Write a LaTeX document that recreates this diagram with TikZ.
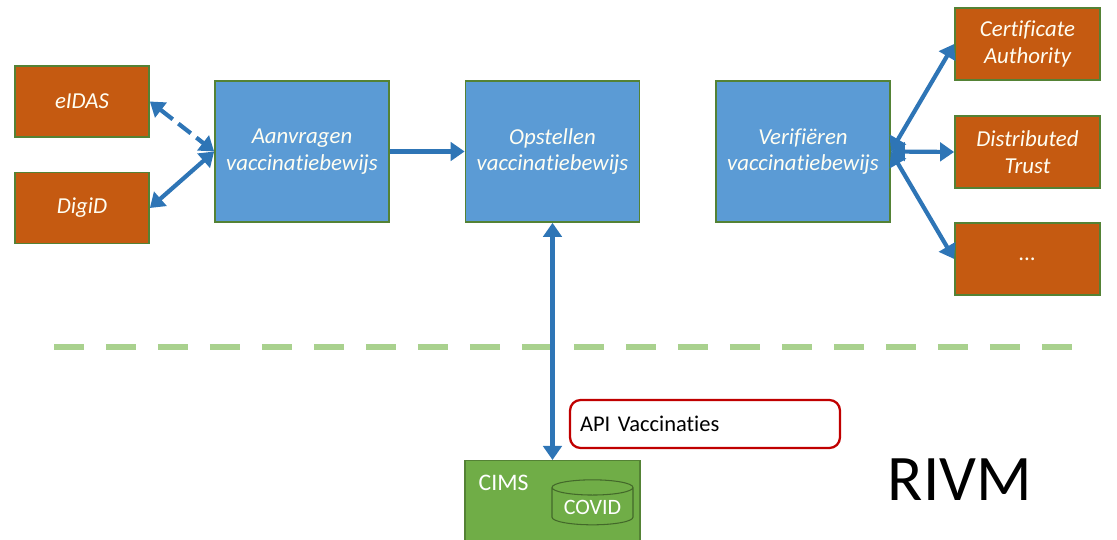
\documentclass[tikz,border=0pt]{standalone}
\usepackage{fontspec}
\setmainfont[Ligatures=NoCommon]{Carlito}
\usepackage{tikz}
\usetikzlibrary{arrows.meta,shapes.geometric,calc}
\definecolor{oranje}{HTML}{C55A11}
\definecolor{blauw}{HTML}{5B9BD5}
\definecolor{pijl}{HTML}{2E75B6}
\definecolor{rand}{HTML}{548235}
\definecolor{groen}{HTML}{70AD47}
\definecolor{lichtgroen}{HTML}{A9D18E}
\definecolor{rood}{HTML}{C00000}
\tikzset{
  bron/.style={draw=rand,line width=1pt,fill=oranje,text=white!95!yellow,font=\itshape\fontsize{13}{15}\selectfont,align=center,minimum width=2.68cm,minimum height=1.42cm},
  extern/.style={bron,minimum width=2.9cm,minimum height=1.44cm},
  proces/.style={draw=rand,line width=1pt,fill=blauw,text=white!95!yellow,font=\itshape\fontsize{13}{15}\selectfont,align=center,minimum width=3.48cm,minimum height=2.82cm},
  koppeling/.style={draw=pijl,line width=2.4pt,{Triangle[length=8pt,width=10.5pt]}-{Triangle[length=8pt,width=10.5pt]}},
  heen/.style={draw=pijl,line width=2.4pt,-{Triangle[length=8pt,width=10.5pt]}}
}
\begin{document}
\begin{tikzpicture}[x=0.02cm,y=-0.02cm]
\useasboundingbox (0,0) rectangle (1117,540);
% aanvraagkant
\node[bron] (eidas) at (82,101.5) {eIDAS};
\node[bron] (digid) at (82,208) {DigiD};
\node[proces] (aanvragen) at (302,151.5) {Aanvragen\\vaccinatiebewijs};
\node[proces] (opstellen) at (552.5,151.5) {Opstellen\\vaccinatiebewijs};
\node[proces] (verifieren) at (803,151.5) {Verifiëren\\vaccinatiebewijs};
% vertrouwensbronnen
\node[extern] (ca) at (1027.5,44) {Certificate\\Authority};
\node[extern] (dt) at (1027.5,152) {Distributed\\Trust};
\node[extern] (overig) at (1027.5,259) {...};
% RIVM deel
\coordinate (lijnbegin) at (54,347);
\coordinate (lijneind) at (1078,347);
\draw[lichtgroen,line width=3.4pt,dash pattern=on 0.6cm off 0.44cm] (lijnbegin) -- (lijneind);
\node[draw=rand,line width=0.6pt,fill=groen,minimum width=3.5cm,minimum height=1.8cm,anchor=north] (cims) at (552.5,460) {};
\node[text=white,font=\fontsize{13.5}{15}\selectfont,anchor=north west] (cimslabel) at ($(cims.north west)+(8,9)$) {CIMS};
\node[cylinder,shape border rotate=90,aspect=0.25,draw=rand!80!black,line width=0.6pt,fill=groen,text=white,font=\fontsize{12.5}{14}\selectfont,minimum width=1.62cm,minimum height=0.9cm,inner sep=1pt] (covid) at (592.5,507.5) {COVID};
\node[draw=rood,line width=1.3pt,rounded corners=6pt,minimum width=5.4cm,minimum height=0.96cm,text width=5cm,align=left,font=\fontsize{12.8}{14}\selectfont] (api) at (705,424) {API Vaccinaties};
\node[font=\fontsize{37}{40}\selectfont] (rivm) at (960,480) {RIVM};
% koppelingen
\draw[koppeling,dash pattern=on 9pt off 4pt] (eidas.east) -- (aanvragen.west);
\draw[koppeling] (digid.east) -- (aanvragen.west);
\draw[heen] (aanvragen) -- (opstellen);
\draw[koppeling] (opstellen.south) -- (opstellen.south |- cims.north);
\draw[koppeling] (verifieren.east) -- (ca.west);
\draw[koppeling] (verifieren.east) -- (dt.west);
\draw[koppeling] (verifieren.east) -- (overig.west);
\end{tikzpicture}
\end{document}
